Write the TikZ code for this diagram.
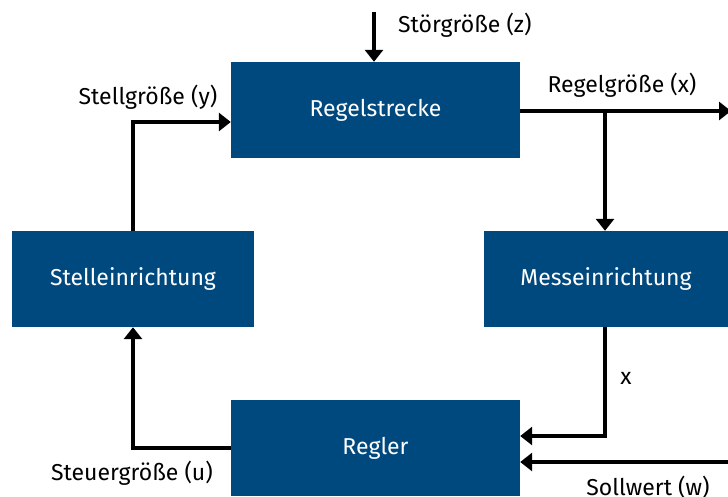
\documentclass[tikz,border=0pt]{standalone}
\usepackage{fontspec}
\setmainfont{Fira Sans}
\usetikzlibrary{arrows.meta}
\definecolor{boxblue}{RGB}{0,73,126}
\begin{document}
\begin{tikzpicture}[x=1pt,y=-1pt,
  block/.style={fill=boxblue,text=white,inner sep=0pt,font=\fontsize{23}{26}\selectfont},
  lbl/.style={font=\fontsize{23}{26}\selectfont,inner sep=0pt},
  flow/.style={line width=3.5pt,-{Triangle[width=18pt,length=12pt]}}]
\useasboundingbox (0,0) rectangle (728,497);
% blocks
\node[block,minimum width=289pt,minimum height=96pt] (strecke) at (375.5,110) {Regelstrecke};
\node[block,minimum width=242pt,minimum height=96pt] (stell) at (133,279) {Stelleinrichtung};
\node[block,minimum width=244pt,minimum height=96pt] (mess) at (606,279) {Messeinrichtung};
\node[block,minimum width=289pt,minimum height=96pt] (regler) at (375.5,448) {Regler};
% helper points
\coordinate (zin) at (374,12);
\coordinate (xout) at (731,111);
\coordinate (xbr) at (605,111);
\coordinate (wsrc) at (730,462);
% disturbance
\draw[flow] (zin) -- (zin |- strecke.north);
\node[lbl,anchor=west] (zl) at (398,25) {Störgröße (z)};
% controlled variable
\draw[flow] (strecke.east |- xout) -- (xout);
\node[lbl] (xl) at (622,85) {Regelgröße (x)};
\draw[flow] (xbr) -- (xbr |- mess.north);
% measured value back to controller
\draw[flow] (mess.south -| xbr) |- ([yshift=12pt]regler.east);
\node[lbl] (xm) at (626,378) {x};
% set point
\draw[flow] (wsrc) -- (regler.east |- wsrc);
\node[lbl] (wl) at (648,487) {Sollwert (w)};
% controller output
\draw[flow] (regler.west) -| (stell.south);
\node[lbl] (ul) at (132,473) {Steuergröße (u)};
% actuator output
\draw[flow] (stell.north) |- ([yshift=-12pt]strecke.west);
\node[lbl] (yl) at (148,97) {Stellgröße (y)};
\end{tikzpicture}
\end{document}
